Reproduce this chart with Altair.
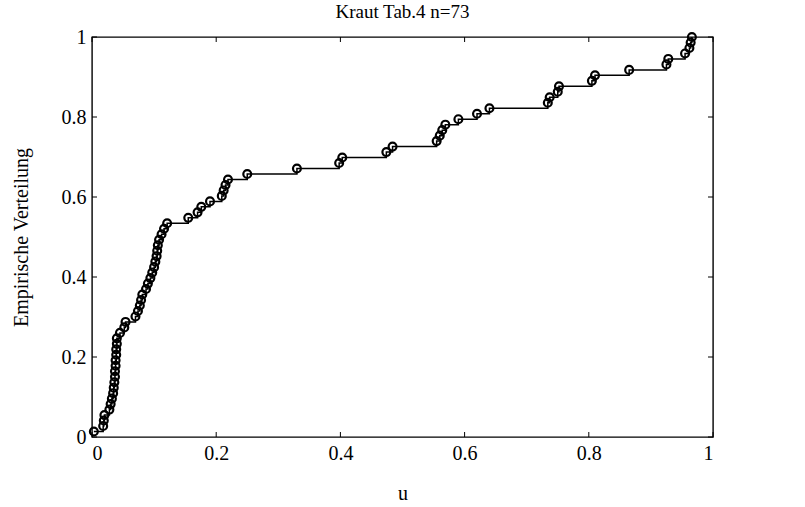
import altair as alt
import pandas as pd

n = 73
u_values = [0.003, 0.018, 0.019, 0.020, 0.028, 0.030, 0.032, 0.034, 0.035, 0.036,
            0.037, 0.037, 0.038, 0.038, 0.039, 0.039, 0.040, 0.040, 0.045, 0.052,
            0.054, 0.070, 0.074, 0.077, 0.079, 0.081, 0.087, 0.090, 0.094, 0.097,
            0.100, 0.102, 0.104, 0.105, 0.106, 0.108, 0.112, 0.116, 0.121, 0.155,
            0.170, 0.176, 0.190, 0.209, 0.212, 0.215, 0.219, 0.250, 0.330, 0.398,
            0.403, 0.474, 0.484, 0.555, 0.560, 0.564, 0.569, 0.590, 0.620, 0.640,
            0.734, 0.737, 0.750, 0.752, 0.805, 0.810, 0.865, 0.925, 0.928, 0.955,
            0.962, 0.964, 0.966]
x_ticks = [0, 0.2, 0.4, 0.6, 0.8, 1]
y_ticks = [0, 0.2, 0.4, 0.6, 0.8, 1]

df = pd.DataFrame({"u": u_values, "F": [(i + 1) / n for i in range(n)]})
xt = pd.DataFrame({"t": x_ticks})
yt = pd.DataFrame({"t": y_ticks})

FONT = "Liberation Serif"
W, H = 621, 400

xs = alt.Scale(domain=[0, 1], nice=False, zero=False)
ys = alt.Scale(domain=[0, 1], nice=False, zero=False)

lab = "datum.value == 0 || datum.value == 1 ? format(datum.value, 'd') : format(datum.value, '.1f')"
common = dict(labelFont=FONT, titleFont=FONT, labelFontSize=20, titleFontSize=20,
              labelColor="black", titleColor="black", titleFontWeight="normal",
              ticks=False, domain=False, grid=False, labelExpr=lab)

xaxis = alt.Axis(values=x_ticks, labelPadding=6, title="u", titlePadding=20, **common)
yaxis = alt.Axis(values=y_ticks, labelPadding=6, title="Empirische Verteilung", titlePadding=30, **common)

line = alt.Chart(df).mark_line(interpolate="step-after", color="black", strokeWidth=1.5).encode(
    x=alt.X("u:Q", scale=xs, axis=xaxis),
    y=alt.Y("F:Q", scale=ys, axis=yaxis),
)
pts = alt.Chart(df).mark_point(shape="circle", filled=False, color="black", size=62, strokeWidth=2.2, opacity=1).encode(
    x=alt.X("u:Q", scale=xs),
    y=alt.Y("F:Q", scale=ys),
)

xt_bot = alt.Chart(xt).mark_rule(color="black", strokeWidth=1).encode(
    x=alt.X("t:Q", scale=xs), y=alt.value(H), y2=alt.value(H - 5))
xt_top = alt.Chart(xt).mark_rule(color="black", strokeWidth=1).encode(
    x=alt.X("t:Q", scale=xs), y=alt.value(0), y2=alt.value(5))
yt_left = alt.Chart(yt).mark_rule(color="black", strokeWidth=1).encode(
    y=alt.Y("t:Q", scale=ys), x=alt.value(0), x2=alt.value(5))
yt_right = alt.Chart(yt).mark_rule(color="black", strokeWidth=1).encode(
    y=alt.Y("t:Q", scale=ys), x=alt.value(W), x2=alt.value(W - 5))

chart = alt.layer(xt_bot, xt_top, yt_left, yt_right, line, pts).properties(
    width=W, height=H,
    background="white",
    title=alt.TitleParams("Kraut Tab.4 n=73", font=FONT, fontSize=19, fontWeight="normal",
                          color="black", offset=5),
    autosize=alt.AutoSizeParams(type="none"),
    padding={"left": 92, "top": 37, "right": 92, "bottom": 70},
).configure_view(stroke="black", strokeWidth=1.4, fill="white")

chart.save("out.html", embed_options={"renderer": "svg", "actions": False})
